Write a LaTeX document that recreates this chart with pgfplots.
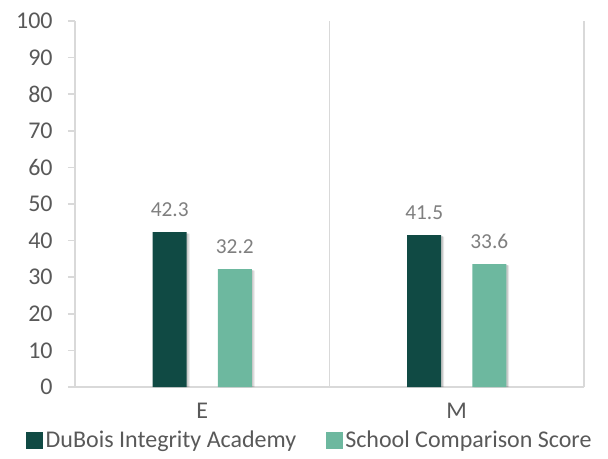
\documentclass[border=0pt]{standalone}
\usepackage{pgfplots}
\pgfplotsset{compat=1.18}
\usepackage{fontspec}
\setmainfont{Carlito}
\definecolor{darkbar}{HTML}{104A44}
\definecolor{lightbar}{HTML}{6DB89F}
\definecolor{gridgray}{HTML}{D9D9D9}
\definecolor{ticktext}{HTML}{595959}
\definecolor{labtext}{HTML}{7F7F7F}
\begin{document}
\begin{tikzpicture}
\useasboundingbox (-56.25pt,-53.25pt) rectangle (399.75pt,290.25pt);
\begin{axis}[
  scale only axis,
  width=381.75pt, height=274.5pt,
  xmin=-0.5, xmax=1.5, ymin=0, ymax=100,
  ytick={0,10,...,100},
  xtick={0,1}, xticklabels={E,M},
  minor xtick={0.5,1.5},
  xminorgrids,
  minor grid style={draw=gridgray, line width=1.1pt},
  separate axis lines,
  axis x line*=bottom, axis y line*=left,
  axis line style={draw=gridgray, line width=1.1pt, -},
  xtick style={draw=none},
  ytick style={draw=gridgray, line width=1.1pt},
  tick align=outside,
  major tick length=5.25pt,
  /pgf/number format/assume math mode=true,
  ticklabel style={font=\fontsize{18}{21}\selectfont, text=ticktext},
  yticklabel style={xshift=-8pt},
  xticklabel style={yshift=-3pt},
  ybar,
  bar width=0.134,
  legend columns=2,
  legend style={at={(0.462,-0.145)}, anchor=center, draw=none, fill=none,
    font=\fontsize{18}{21}\selectfont, text=ticktext,
    /tikz/every even column/.append style={column sep=20pt}},
  legend image code/.code={\fill[#1] (0pt,-6.4pt) rectangle (12.75pt,6.4pt);},
  lab/.style={nodes near coords,
    nodes near coords style={font=\fontsize{16}{19}\selectfont, text=labtext, yshift=8pt,
      /pgf/number format/fixed, /pgf/number format/precision=1, /pgf/number format/fixed zerofill,
      /pgf/number format/assume math mode=true}},
]
\addplot[forget plot, draw=none, fill=black, fill opacity=0.10, bar shift=-0.118, bar width=0.136]
  coordinates {(0,41.9) (1,41.1)};
\addplot[forget plot, draw=none, fill=black, fill opacity=0.10, bar shift=0.138, bar width=0.136]
  coordinates {(0,31.8) (1,33.2)};
\addplot[forget plot, draw=none, fill=black, fill opacity=0.12, bar shift=-0.122, bar width=0.134]
  coordinates {(0,42.0) (1,41.2)};
\addplot[forget plot, draw=none, fill=black, fill opacity=0.12, bar shift=0.134, bar width=0.134]
  coordinates {(0,31.9) (1,33.3)};
\addplot[draw=none, fill=darkbar, bar shift=-0.128, lab] coordinates {(0,42.3) (1,41.5)};
\addlegendentry{DuBois Integrity Academy}
\addplot[draw=none, fill=lightbar, bar shift=0.128, lab] coordinates {(0,32.2) (1,33.6)};
\addlegendentry{School Comparison Score}
\end{axis}
\end{tikzpicture}
\end{document}
